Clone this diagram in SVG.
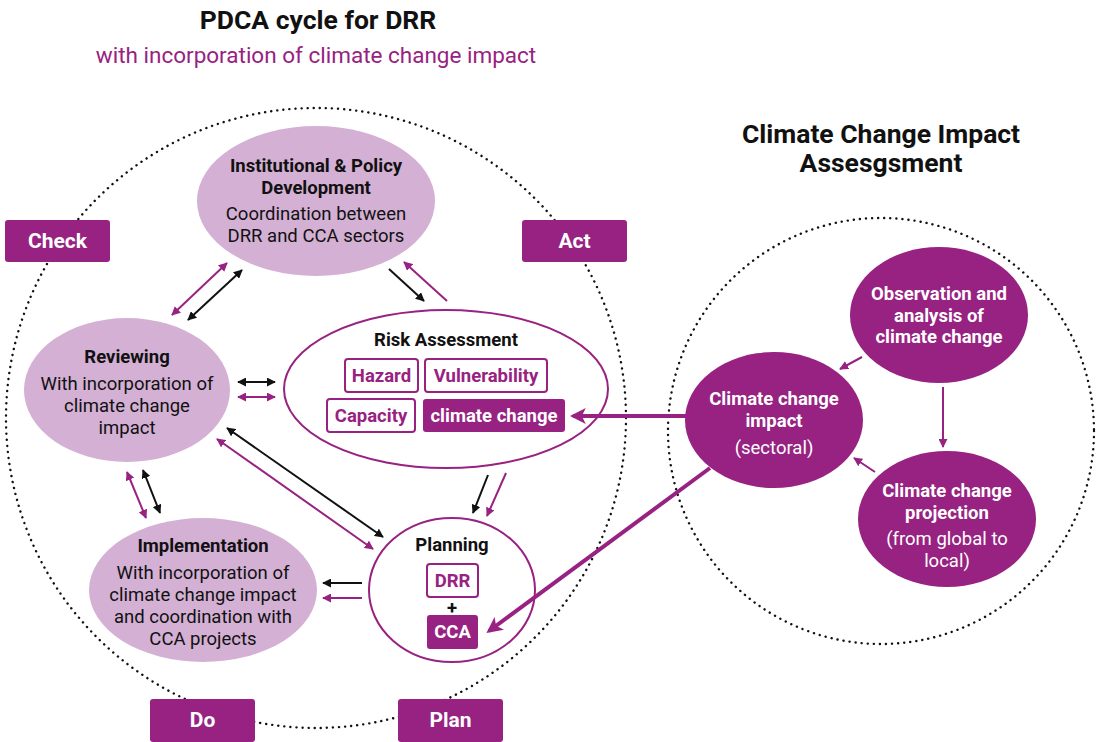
<svg xmlns="http://www.w3.org/2000/svg" width="1097" height="742" viewBox="0 0 1097 742">
<style>
text{font-family:Roboto,"Liberation Sans",sans-serif;text-anchor:middle}
.t{font-size:18.5px;font-weight:bold;fill:#111}
.r{font-size:18.5px;fill:#111}
.w{font-size:18.5px;font-weight:bold;fill:#fff}
.wr{font-size:18.5px;fill:#fff}
.pb{font-size:18.5px;font-weight:bold;fill:#972281}
.lbl{font-size:21px;font-weight:bold;fill:#fff}
.lt{fill:#d3b0d4}
.pf{fill:#972281}
.ob{fill:#fff;stroke:#972281;stroke-width:2}
.dot{fill:none;stroke:#111;stroke-width:2.4;stroke-dasharray:0.1 6;stroke-linecap:round}
.ka{stroke:#111;stroke-width:2;fill:none}
.pa{stroke:#972281;stroke-width:2;fill:none}
.th{stroke:#972281;stroke-width:4;fill:none}
</style>
<defs>
<marker id="mk" viewBox="0 0 10 10" refX="9" refY="5" markerWidth="9" markerHeight="9" markerUnits="userSpaceOnUse" orient="auto-start-reverse"><path d="M0,0 L10,5 L0,10 z" fill="#111"/></marker>
<marker id="mp" viewBox="0 0 10 10" refX="9" refY="5" markerWidth="9" markerHeight="9" markerUnits="userSpaceOnUse" orient="auto-start-reverse"><path d="M0,0 L10,5 L0,10 z" fill="#972281"/></marker>
<marker id="mt" viewBox="0 0 10 10" refX="8" refY="5" markerWidth="16" markerHeight="16" markerUnits="userSpaceOnUse" orient="auto"><path d="M0,0 L10,5 L0,10 L2.5,5 z" fill="#972281"/></marker>
</defs>
<rect width="1097" height="742" fill="#fff"/>

<g id="titles">
<text x="318" y="29" style="font-size:26.5px;font-weight:bold;fill:#111">PDCA cycle for DRR</text>
<text x="316" y="63" style="font-size:22.5px;fill:#972281">with incorporation of climate change impact</text>
<text x="881" y="143" style="font-size:26.5px;font-weight:bold;fill:#111">Climate Change Impact</text>
<text x="881" y="172" style="font-size:26.5px;font-weight:bold;fill:#111">Assesgsment</text>
</g>

<g id="cycles">
<circle class="dot" cx="316" cy="418" r="310"/>
<circle class="dot" cx="881" cy="431" r="213"/>
</g>

<g id="phase-labels">
<g id="check"><rect class="pf" x="5" y="220" width="105" height="42" rx="3"/><text class="lbl" x="57.5" y="248">Check</text></g>
<g id="act"><rect class="pf" x="522" y="220" width="105" height="42" rx="3"/><text class="lbl" x="574.5" y="248">Act</text></g>
<g id="do"><rect class="pf" x="150" y="699" width="105" height="43" rx="3"/><text class="lbl" x="202.5" y="727">Do</text></g>
<g id="plan"><rect class="pf" x="398" y="699" width="105" height="43" rx="3"/><text class="lbl" x="450.5" y="727">Plan</text></g>
</g>

<g id="institutional">
<ellipse class="lt" cx="316" cy="201" rx="119" ry="75"/>
<text class="t" x="316" y="172">Institutional &amp; Policy</text>
<text class="t" x="316" y="194">Development</text>
<text class="r" x="316" y="220">Coordination between</text>
<text class="r" x="316" y="242">DRR and CCA sectors</text>
</g>

<g id="reviewing">
<ellipse class="lt" cx="127" cy="390" rx="103" ry="72"/>
<text class="t" x="127" y="363">Reviewing</text>
<text class="r" x="127" y="390">With incorporation of</text>
<text class="r" x="127" y="412">climate change</text>
<text class="r" x="127" y="434">impact</text>
</g>

<g id="implementation">
<ellipse class="lt" cx="203" cy="590" rx="114" ry="72"/>
<text class="t" x="203" y="552">Implementation</text>
<text class="r" x="203" y="579">With incorporation of</text>
<text class="r" x="203" y="601">climate change impact</text>
<text class="r" x="203" y="623">and coordination with</text>
<text class="r" x="203" y="645">CCA projects</text>
</g>

<g id="risk-assessment">
<ellipse class="ob" cx="446" cy="389" rx="162" ry="79"/>
<text class="t" x="446" y="346">Risk Assessment</text>
<rect class="ob" x="345" y="359" width="73" height="33" rx="3"/>
<text class="pb" x="381.5" y="382">Hazard</text>
<rect class="ob" x="425" y="359" width="122" height="33" rx="3"/>
<text class="pb" x="486" y="382">Vulnerability</text>
<rect class="ob" x="327" y="399" width="88" height="33" rx="3"/>
<text class="pb" x="371" y="422">Capacity</text>
<rect class="pf" x="423" y="399" width="142" height="33" rx="3"/>
<text class="w" x="494" y="422">climate change</text>
</g>

<g id="planning">
<ellipse class="ob" cx="452" cy="590" rx="83" ry="72"/>
<text class="t" x="452" y="551">Planning</text>
<rect class="ob" x="427" y="564" width="51" height="33" rx="3"/>
<text class="pb" x="452.5" y="587">DRR</text>
<text class="t" x="452" y="614">+</text>
<rect class="pf" x="427" y="615" width="51" height="34" rx="3"/>
<text class="w" x="452.5" y="638">CCA</text>
</g>

<g id="observation">
<ellipse class="pf" cx="939" cy="315" rx="89" ry="68"/>
<text class="w" x="939" y="300">Observation and</text>
<text class="w" x="939" y="322">analysis of</text>
<text class="w" x="939" y="343">climate change</text>
</g>

<g id="impact">
<ellipse class="pf" cx="774" cy="420" rx="89" ry="68"/>
<text class="w" x="774" y="405">Climate change</text>
<text class="w" x="774" y="427">impact</text>
<text class="wr" x="774" y="454">(sectoral)</text>
</g>

<g id="projection">
<ellipse class="pf" cx="947" cy="519" rx="89" ry="68"/>
<text class="w" x="947" y="497">Climate change</text>
<text class="w" x="947" y="519">projection</text>
<text class="wr" x="947" y="545">(from global to</text>
<text class="wr" x="947" y="567">local)</text>
</g>

<g id="connectors">
<line class="pa" x1="227" y1="263" x2="172" y2="315" marker-start="url(#mp)" marker-end="url(#mp)"/>
<line class="ka" x1="242" y1="270" x2="188" y2="320" marker-start="url(#mk)" marker-end="url(#mk)"/>
<line class="ka" x1="389" y1="269" x2="424" y2="301" marker-end="url(#mk)"/>
<line class="pa" x1="447" y1="301" x2="404" y2="262" marker-end="url(#mp)"/>
<line class="ka" x1="238" y1="382" x2="275" y2="382" marker-start="url(#mk)" marker-end="url(#mk)"/>
<line class="pa" x1="238" y1="397" x2="275" y2="397" marker-start="url(#mp)" marker-end="url(#mp)"/>
<line class="ka" x1="227" y1="428" x2="383" y2="537" marker-start="url(#mk)" marker-end="url(#mk)"/>
<line class="pa" x1="217" y1="439" x2="373" y2="549" marker-start="url(#mp)" marker-end="url(#mp)"/>
<line class="pa" x1="127" y1="472" x2="146" y2="518" marker-start="url(#mp)" marker-end="url(#mp)"/>
<line class="ka" x1="143" y1="470" x2="160" y2="513" marker-start="url(#mk)" marker-end="url(#mk)"/>
<line class="ka" x1="362" y1="583" x2="323" y2="583" marker-end="url(#mk)"/>
<line class="pa" x1="362" y1="598" x2="323" y2="598" marker-end="url(#mp)"/>
<line class="ka" x1="488" y1="475" x2="473" y2="513" marker-end="url(#mk)"/>
<line class="pa" x1="506" y1="473" x2="487" y2="516" marker-end="url(#mp)"/>
<line class="pa" x1="862" y1="357" x2="840" y2="369" marker-end="url(#mp)"/>
<line class="pa" x1="943" y1="387" x2="943" y2="447" marker-end="url(#mp)"/>
<line class="pa" x1="875" y1="472" x2="854" y2="458" marker-end="url(#mp)"/>
<line class="th" x1="686" y1="416" x2="573" y2="416" marker-end="url(#mt)"/>
<line class="th" x1="710" y1="468" x2="489" y2="631" marker-end="url(#mt)"/>
</g>
</svg>
